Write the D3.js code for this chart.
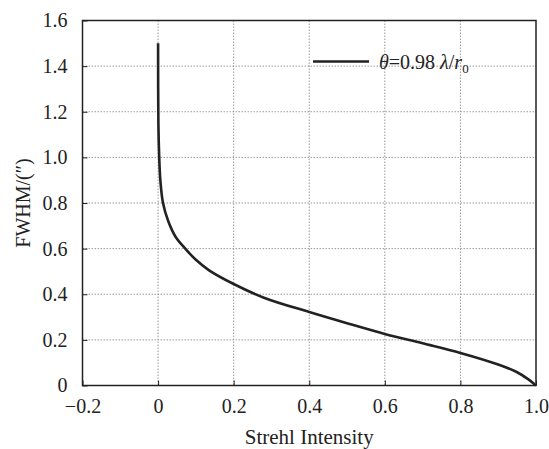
<!DOCTYPE html>
<html>
<head>
<meta charset="utf-8">
<script src="https://cdn.jsdelivr.net/npm/d3@7"></script>
<style>
  body { margin: 0; background: #fff; }
  svg text { font-family: "Liberation Serif", "Times New Roman", Times, serif !important; fill: #222; }
  .grid line { stroke: #9a9a9a; stroke-dasharray: 1.5,1.5; stroke-width: 1; }
</style>
</head>
<body>
<svg width="549" height="449"></svg>
<script>
const width = 549;
const height = 449;
const margin = { top: 20.5, right: 13, bottom: 63.5, left: 82.5 };
const serif = '"Liberation Serif", "Times New Roman", Times, serif';

// Strehl intensity vs FWHM
const strehl = [0, 0.0008, 0.003, 0.006, 0.013, 0.027, 0.047, 0.072, 0.1, 0.135, 0.2, 0.28, 0.4, 0.5, 0.6, 0.7, 0.8, 0.9, 0.95, 0.98, 0.995, 1.0];
const fwhm = [1.5, 1.15, 1.0, 0.9, 0.8, 0.72, 0.65, 0.6, 0.551, 0.505, 0.445, 0.385, 0.322, 0.273, 0.226, 0.185, 0.143, 0.092, 0.058, 0.027, 0.007, 0];

const xTicks = [-0.2, 0, 0.2, 0.4, 0.6, 0.8, 1.0];
const yTicks = [0, 0.2, 0.4, 0.6, 0.8, 1.0, 1.2, 1.4, 1.6];
const legendLabel = '0.98';

const w = width - margin.left - margin.right;
const h = height - margin.top - margin.bottom;

const x = d3.scaleLinear().domain([-0.2, 1.0]).range([0, w]);
const y = d3.scaleLinear().domain([0, 1.6]).range([h, 0]);

const fmt = d => d === 0 ? '0' : d3.format('.1f')(d).replace('-', '\u2212');

const svg = d3.select('svg')
    .append('g')
    .attr('transform', `translate(${margin.left}, ${margin.top})`);

// grid
svg.append('g').attr('class', 'grid')
    .selectAll('line')
    .data(xTicks.filter(d => d > -0.2 && d < 1.0))
    .join('line')
    .attr('x1', d => x(d)).attr('x2', d => x(d))
    .attr('y1', 0).attr('y2', h);

svg.append('g').attr('class', 'grid')
    .selectAll('line')
    .data(yTicks.filter(d => d > 0 && d < 1.6))
    .join('line')
    .attr('x1', 0).attr('x2', w)
    .attr('y1', d => y(d)).attr('y2', d => y(d));

// axes
const xAxis = svg.append('g')
    .attr('transform', `translate(0, ${h})`)
    .call(d3.axisBottom(x).tickValues(xTicks).tickFormat(fmt).tickSizeInner(-5).tickSizeOuter(0).tickPadding(13));

const yAxis = svg.append('g')
    .call(d3.axisLeft(y).tickValues(yTicks).tickFormat(fmt).tickSizeInner(-5).tickSizeOuter(0).tickPadding(15));

[xAxis, yAxis].forEach(a => {
    a.attr('font-family', serif);
    a.selectAll('text').attr('font-family', serif).style('font-size', '20px').attr('fill', '#222');
    a.selectAll('line').attr('stroke', '#222');
    a.select('.domain').remove();
});

// frame
svg.append('rect')
    .attr('width', w).attr('height', h)
    .attr('fill', 'none')
    .attr('stroke', '#222')
    .attr('stroke-width', 1.5);

// curve
const data = strehl.map((s, i) => ({ s: s, f: fwhm[i] }));

const line = d3.line()
    .x(d => x(d.s))
    .y(d => y(d.f))
    .curve(d3.curveCatmullRom.alpha(0.5));

svg.append('path')
    .datum(data)
    .attr('d', line)
    .attr('fill', 'none')
    .attr('stroke', '#222')
    .attr('stroke-width', 2.6);

// legend
const lg = svg.append('g').attr('transform', `translate(${313 - margin.left}, ${61.5 - margin.top})`);
lg.append('line')
    .attr('x1', 0).attr('x2', 56)
    .attr('stroke', '#222').attr('stroke-width', 2.6);
const lt = lg.append('text')
    .attr('x', 66).attr('y', 7)
    .attr('font-family', serif)
    .style('font-size', '20px');
lt.append('tspan').attr('font-style', 'italic').text('\u03b8');
lt.append('tspan').text('=' + legendLabel + ' ');
lt.append('tspan').attr('font-style', 'italic').text('\u03bb');
lt.append('tspan').text('/');
lt.append('tspan').attr('font-style', 'italic').text('r');
lt.append('tspan').attr('dy', 4).style('font-size', '13px').text('0');

// axis titles
svg.append('text')
    .attr('x', w / 2)
    .attr('y', h + 58.5)
    .attr('text-anchor', 'middle')
    .attr('font-family', serif)
    .style('font-size', '21px')
    .text('Strehl Intensity');

svg.append('text')
    .attr('transform', `translate(${30 - margin.left}, ${h / 2}) rotate(-90)`)
    .attr('text-anchor', 'middle')
    .attr('font-family', serif)
    .style('font-size', '20px')
    .text('FWHM/(\u2033)');
</script>
</body>
</html>
